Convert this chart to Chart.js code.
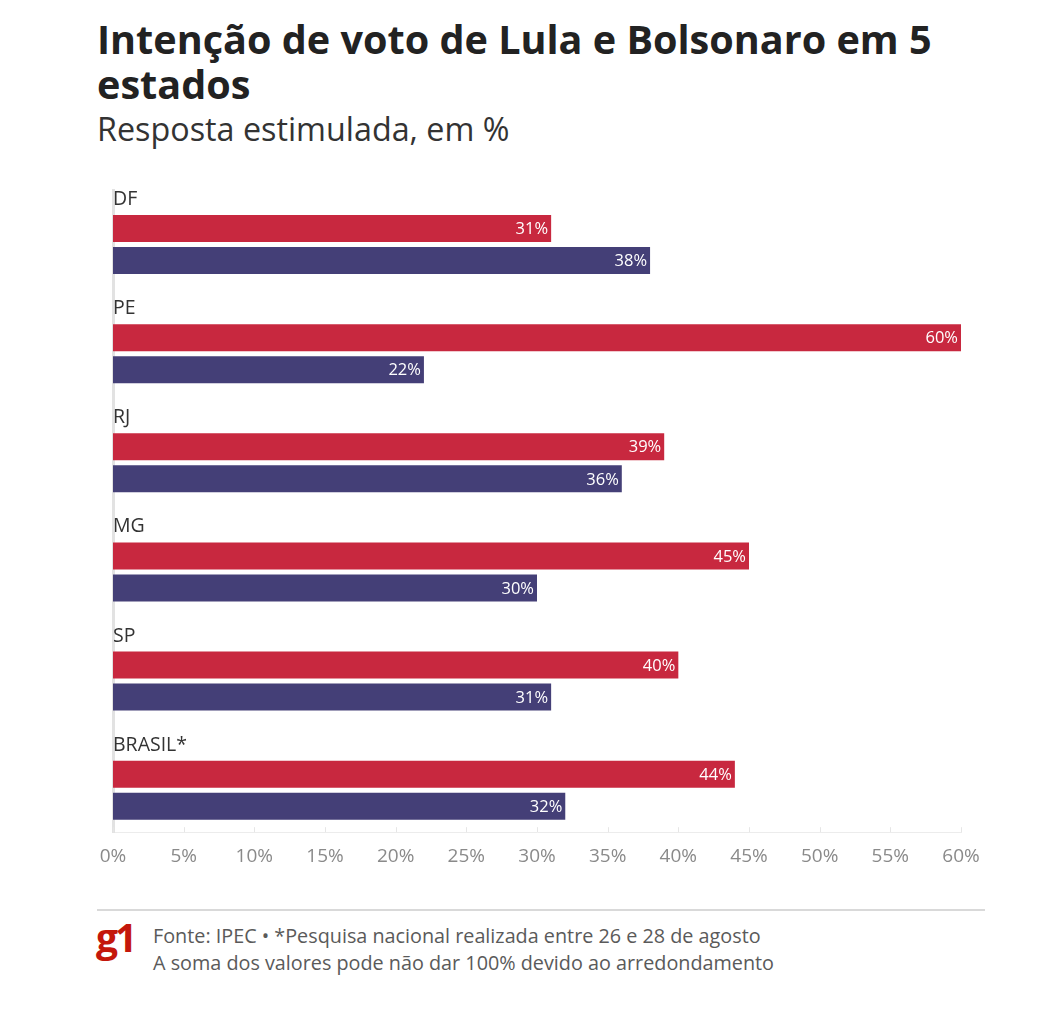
<!DOCTYPE html>
<html lang="pt-BR">
<head>
<meta charset="utf-8">
<title>Intenção de voto de Lula e Bolsonaro em 5 estados</title>
<script src="https://cdn.jsdelivr.net/npm/chart.js@4/dist/chart.umd.min.js"></script>
<style>
  html, body { margin: 0; padding: 0; background: #fff; }
  body { width: 1048px; height: 1024px; position: relative; font-family: "Open Sans", sans-serif; overflow: hidden; }
  .title { position: absolute; left: 97px; top: 17px; width: 880px; margin: 0; font-size: 39.6px; line-height: 45px; font-weight: 700; color: #222; }
  .subtitle { position: absolute; left: 97px; top: 108px; margin: 0; font-size: 32.3px; line-height: 40px; color: #333; }
  .chart-wrap { position: absolute; left: 0; top: 180px; width: 1048px; height: 720px; }
  .footer-line { position: absolute; left: 97px; top: 909px; width: 888px; height: 0; border-top: 2px solid #d9d9d9; }
  .logo { position: absolute; left: 96px; top: 914px; font-size: 39px; font-weight: 700; color: #c4170c; letter-spacing: -3px; line-height: 46px; }
  .source { position: absolute; left: 153px; top: 922px; font-size: 19.8px; line-height: 27px; color: #5a5a5a; }
</style>
</head>
<body>
<h1 class="title">Intenção de voto de Lula e Bolsonaro em 5 estados</h1>
<p class="subtitle">Resposta estimulada, em %</p>
<div class="chart-wrap"><canvas id="chart"></canvas></div>
<div class="footer-line"></div>
<div class="logo">g1</div>
<div class="source">Fonte: IPEC • *Pesquisa nacional realizada entre 26 e 28 de agosto<br>A soma dos valores pode não dar 100% devido ao arredondamento</div>

<script>
  // dados
  var states = ['DF', 'PE', 'RJ', 'MG', 'SP', 'BRASIL*'];
  var lula = [31, 60, 39, 45, 40, 44];
  var bolsonaro = [38, 22, 36, 30, 31, 32];
  var xTicks = [0, 5, 10, 15, 20, 25, 30, 35, 40, 45, 50, 55, 60];

  var RED = '#c8283f';
  var BLUE = '#443f77';

  function toPoints(values) {
    return values.map(function (v, i) { return { x: v, y: i }; });
  }

  // rótulo do estado acima de cada grupo + valores dentro das barras
  var labelsPlugin = {
    id: 'groupLabels',
    afterDatasetsDraw: function (chart) {
      var ctx = chart.ctx;
      var yScale = chart.scales.y;
      var area = chart.chartArea;
      ctx.save();
      ctx.font = '19.5px "Open Sans"';
      ctx.fillStyle = '#333';
      ctx.textAlign = 'left';
      ctx.textBaseline = 'middle';
      states.forEach(function (s, i) {
        ctx.fillText(s, area.left, yScale.getPixelForValue(i) - 45);
      });

      ctx.font = '16.5px "Open Sans"';
      ctx.fillStyle = '#fff';
      ctx.textAlign = 'right';
      chart.data.datasets.forEach(function (ds, di) {
        chart.getDatasetMeta(di).data.forEach(function (bar, i) {
          ctx.fillText(ds.data[i].x + '%', bar.x - 3, bar.y + 1);
        });
      });

      // marcas do eixo x para cima
      var xScale = chart.scales.x;
      ctx.strokeStyle = '#e6e6e6';
      ctx.lineWidth = 1;
      ctx.beginPath();
      xTicks.forEach(function (t) {
        var px = Math.round(xScale.getPixelForValue(t)) + 0.5;
        ctx.moveTo(px, area.bottom);
        ctx.lineTo(px, area.bottom - 5);
      });
      ctx.stroke();
      ctx.restore();
    }
  };

  new Chart(document.getElementById('chart'), {
    type: 'bar',
    data: {
      datasets: [
        { label: 'Lula', data: toPoints(lula), backgroundColor: RED },
        { label: 'Bolsonaro', data: toPoints(bolsonaro), backgroundColor: BLUE }
      ]
    },
    options: {
      indexAxis: 'y',
      responsive: true,
      maintainAspectRatio: false,
      animation: false,
      categoryPercentage: 64 / 109,
      barPercentage: 27 / 32,
      layout: { padding: { top: 10, left: 113, right: 87, bottom: 19 } },
      plugins: {
        legend: { display: false },
        tooltip: { enabled: false }
      },
      scales: {
        x: {
          type: 'linear',
          min: 0,
          max: 60,
          afterBuildTicks: function (scale) {
            scale.ticks = xTicks.map(function (v) { return { value: v }; });
          },
          grid: { display: false, drawTicks: false },
          border: { display: true, color: '#ececec', width: 1 },
          ticks: {
            padding: 13,
            color: '#8a8a8a',
            font: { family: 'Open Sans', size: 19 },
            callback: function (v) { return v + '%'; }
          }
        },
        y: {
          type: 'linear',
          reverse: true,
          offset: false,
          min: -0.5,
          max: 5.385,
          afterBuildTicks: function (scale) {
            scale.ticks = states.map(function (s, i) { return { value: i }; });
          },
          grid: { display: false, drawTicks: false },
          border: { display: true, color: '#e2e2e2', width: 3 },
          ticks: { display: false }
        }
      }
    },
    plugins: [labelsPlugin]
  });
</script>
</body>
</html>
